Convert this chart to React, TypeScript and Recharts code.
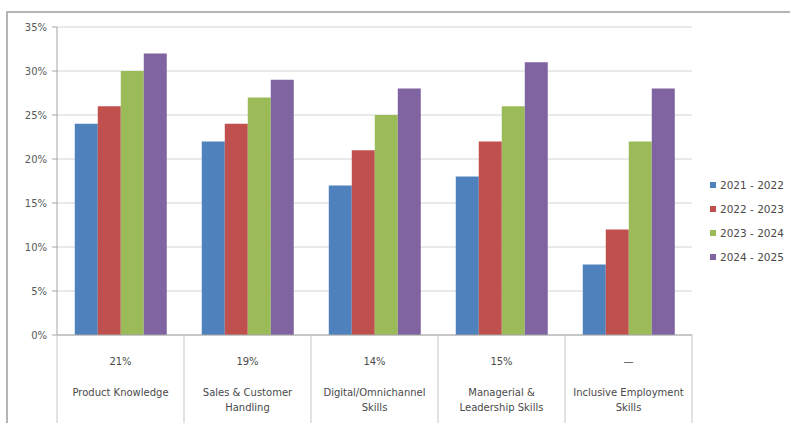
import React from "react";
import { BarChart, Bar, XAxis, YAxis, CartesianGrid, Legend } from "recharts";

const categories = [
  "Product Knowledge",
  "Sales & Customer Handling",
  "Digital/Omnichannel Skills",
  "Managerial & Leadership Skills",
  "Inclusive Employment Skills",
];
const categoryLines = [
  ["Product Knowledge"],
  ["Sales & Customer", "Handling"],
  ["Digital/Omnichannel", "Skills"],
  ["Managerial &", "Leadership Skills"],
  ["Inclusive Employment", "Skills"],
];
const shareLabels = ["21%", "19%", "14%", "15%", "\u2014"];
const s2021 = [24, 22, 17, 18, 8];
const s2022 = [26, 24, 21, 22, 12];
const s2023 = [30, 27, 25, 26, 22];
const s2024 = [32, 29, 28, 31, 28];
const seriesNames = ["2021 - 2022", "2022 - 2023", "2023 - 2024", "2024 - 2025"];
const yTicks = [0, 5, 10, 15, 20, 25, 30, 35];

const colors = ["#4F81BD", "#C0504D", "#9BBB59", "#8064A2"];
const FONT = "'DejaVu Sans', 'Open Sans', sans-serif";

const data = categories.map((c, i) => ({
  name: c,
  a: s2021[i],
  b: s2022[i],
  c: s2023[i],
  d: s2024[i],
}));

const W = 790;
const H = 423;
const M = { top: 27, right: 98, left: 0, bottom: 0 };
const Y_W = 57;
const HALF = (W - M.right - Y_W) / categories.length / 2;

const CategoryTick = (props: any) => {
  const { x, y, index } = props;
  const lines = categoryLines[index] || [];
  const sep = "#c6c6c6";
  return (
    <g>
      <line x1={x - HALF} x2={x - HALF} y1={y} y2={H} stroke={sep} />
      {index === categories.length - 1 && (
        <line x1={x + HALF} x2={x + HALF} y1={y} y2={H} stroke={sep} />
      )}
      <text x={x} y={y + 26} textAnchor="middle" dominantBaseline="central" fontSize={10} fill="#4a4a4a" fontFamily={FONT}>
        {shareLabels[index]}
      </text>
      {lines.map((l, i) => (
        <text key={i} x={x} y={y + 57 + 15 * i} textAnchor="middle" dominantBaseline="central" fontSize={10} fill="#4a4a4a" fontFamily={FONT}>
          {l}
        </text>
      ))}
    </g>
  );
};

const LegendContent = () => (
  <div style={{ fontFamily: FONT, fontSize: 10.5, color: "#4a4a4a" }}>
    {seriesNames.map((n, i) => (
      <div key={n} style={{ height: 24, display: "flex", alignItems: "center", whiteSpace: "nowrap" }}>
        <span style={{ display: "inline-block", width: 6, height: 6, background: colors[i], marginRight: 4 }} />
        {n}
      </div>
    ))}
  </div>
);

export default function App() {
  return (
    <div style={{ position: "absolute", left: 0, top: 0, width: W, height: H, background: "#fff" }}>
      <div
        style={{
          position: "absolute",
          left: 6,
          top: 11,
          width: W - 6,
          height: H - 11,
          borderTop: "2px solid #b4b4b4",
          borderLeft: "2px solid #b4b4b4",
          boxSizing: "border-box",
        }}
      />
      <div style={{ position: "absolute", left: 0, top: 0 }}>
        <BarChart width={W} height={H} data={data} margin={M} barCategoryGap="14%" barGap={0}>
          <CartesianGrid horizontal vertical={false} stroke="#d4d4d4" />
          <XAxis
            dataKey="name"
            interval={0}
            height={H - 335 - M.bottom}
            tickSize={0}
            tickMargin={0}
            tick={<CategoryTick />}
            axisLine={{ stroke: "#a6a6a6" }}
            tickLine={false}
          />
          <YAxis
            width={Y_W}
            domain={[0, 35]}
            ticks={yTicks}
            interval={0}
            tickFormatter={(v: number) => `${v}%`}
            tick={{ fontSize: 10, fill: "#5a5a5a", fontFamily: FONT }}
            tickSize={5}
            tickMargin={5}
            axisLine={{ stroke: "#a6a6a6" }}
            tickLine={{ stroke: "#a6a6a6" }}
          />
          <Legend
            layout="horizontal"
            verticalAlign="middle"
            align="center"
            content={<LegendContent />}
            wrapperStyle={{ left: 710, top: 173, width: 80 }}
          />
          <Bar dataKey="a" name={seriesNames[0]} fill={colors[0]} isAnimationActive={false} />
          <Bar dataKey="b" name={seriesNames[1]} fill={colors[1]} isAnimationActive={false} />
          <Bar dataKey="c" name={seriesNames[2]} fill={colors[2]} isAnimationActive={false} />
          <Bar dataKey="d" name={seriesNames[3]} fill={colors[3]} isAnimationActive={false} />
        </BarChart>
      </div>
    </div>
  );
}
